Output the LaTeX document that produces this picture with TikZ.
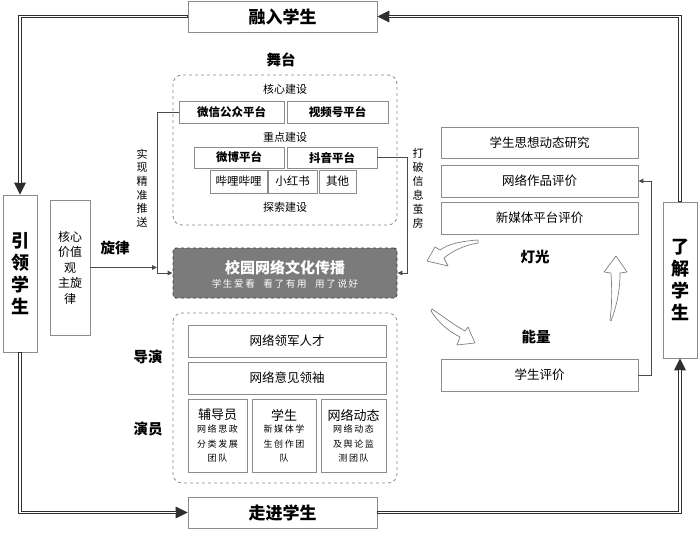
\documentclass[tikz,border=0pt]{standalone}
\usepackage{fontspec}
\setmainfont{Noto Sans CJK SC}
\newfontfamily\kai{Noto Sans CJK SC}[LetterSpace=18]
\usetikzlibrary{arrows.meta}
\definecolor{boxgray}{HTML}{8C8C8C}
\definecolor{dk}{HTML}{2E2E2E}
\definecolor{connc}{HTML}{4A4A4A}
\definecolor{campfill}{HTML}{7B7B7B}
\definecolor{campline}{HTML}{3C3C3C}
\tikzset{
  box/.style={draw=boxgray, line width=0.8pt, fill=white, inner sep=0pt, align=center},
  dashbox/.style={draw=boxgray, dashed, line width=0.8pt, rounded corners=9pt},
  lbl/.style={inner sep=0pt, align=center},
  conn/.style={draw=connc, line width=0.9pt},
  smtip/.style={-{Triangle[length=5pt,width=4.5pt]}},
  bigout/.style={line width=3.8pt, draw=dk, -{Triangle[length=12pt,width=12pt,line width=0pt]}},
  bigin/.style={line width=1.4pt, draw=white, shorten >=12pt, shorten <=0.5pt},
  blockarrow/.style={draw=gray, fill=white, line width=0.7pt, line join=round},
}
\begin{document}
\begin{tikzpicture}[x=1pt,y=-1pt]
\useasboundingbox[fill=white] (0,0) rectangle (700,535);

% outer cycle boxes
\node[box, minimum width=189pt, minimum height=31pt, font=\bfseries\fontsize{17}{20}\selectfont] (rong) at (282.5,16.5) {融入学生};
\node[box, minimum width=189pt, minimum height=31pt, font=\bfseries\fontsize{17}{20}\selectfont] (zou) at (282.5,512.5) {走进学生};
\node[box, minimum width=34pt, minimum height=157pt, font=\bfseries\fontsize{18}{22}\selectfont] (yin) at (20,273.5) {引\\领\\学\\生};
\node[box, minimum width=34pt, minimum height=156pt, font=\bfseries\fontsize{18}{22}\selectfont] (liao) at (680,280) {了\\解\\学\\生};

% double connectors
\draw[bigout] (rong.west) -| (yin.north);
\draw[bigin] (rong.west) -| (yin.north);
\draw[bigout] (yin.south) |- (zou.west);
\draw[bigin] (yin.south) |- (zou.west);
\draw[bigout] (zou.east) -| (liao.south);
\draw[bigin] (zou.east) -| (liao.south);
\draw[bigout] (liao.north) |- (rong.east);
\draw[bigin] (liao.north) |- (rong.east);

% core value box
\node[box, minimum width=40pt, minimum height=135pt, font=\fontsize{12}{15.5}\selectfont] (hexin) at (70,267.5) {核心\\价值\\观\\主旋\\律};
\node[lbl, font=\bfseries\fontsize{14.5}{17}\selectfont] (xuanlv) at (115,248) {旋律};

% stage
\node[lbl, font=\bfseries\fontsize{14.5}{17}\selectfont] (wutai) at (281,60) {舞台};
\draw[dashbox] (173,75) rectangle (397,225);
\node[lbl, font=\fontsize{11}{13}\selectfont] (hxjs) at (285,89) {核心建设};
\node[lbl, font=\fontsize{11}{13}\selectfont] (zdjs) at (285,137) {重点建设};
\node[lbl, font=\fontsize{11}{13}\selectfont] (tsjs) at (285,207) {探索建设};
\node[box, minimum width=105pt, minimum height=22pt, font=\bfseries\fontsize{11.5}{13}\selectfont] (wx) at (231.5,112) {微信公众平台};
\node[box, minimum width=101pt, minimum height=22pt, font=\bfseries\fontsize{11.5}{13}\selectfont] (sph) at (337.5,112) {视频号平台};
\node[box, minimum width=90pt, minimum height=21pt, font=\bfseries\fontsize{11.5}{13}\selectfont] (wb) at (239,157.5) {微博平台};
\node[box, minimum width=90pt, minimum height=21pt, font=\bfseries\fontsize{11.5}{13}\selectfont] (dy) at (332,157.5) {抖音平台};
\node[box, minimum width=57pt, minimum height=23pt, font=\fontsize{11.5}{13}\selectfont] (bl) at (238.5,181.5) {哔哩哔哩};
\node[box, minimum width=49pt, minimum height=23pt, font=\fontsize{11.5}{13}\selectfont] (xhs) at (292.5,181.5) {小红书};
\node[box, minimum width=37pt, minimum height=23pt, font=\fontsize{11.5}{13}\selectfont] (qt) at (337.5,181.5) {其他};

\node[lbl, font=\fontsize{11}{13.6}\selectfont] (jztx) at (142,188) {实\\现\\精\\准\\推\\送};
\node[lbl, font=\fontsize{11}{14}\selectfont] (dpxx) at (418,188) {打\\破\\信\\息\\茧\\房};

% campus box
\node[draw=campline, dashed, fill=campfill, line width=0.9pt, rounded corners=3pt, minimum width=224pt, minimum height=50pt, inner sep=0pt] (campus) at (285,273) {};
\node[lbl, text=white, font=\bfseries\fontsize{15}{17}\selectfont] (camt) at (285,268) {校园网络文化传播};
\node[lbl, text=white, font=\kai\fontsize{9.5}{11}\selectfont] (cams) at (285,283.5) {学生爱看\hspace{0.9em}看了有用\hspace{0.9em}用了说好};

% thin connectors
\coordinate (jL) at (157,273);
\coordinate (jR) at (407,273);
\draw[conn, smtip] (wx.west) -| (jL) -- (campus.west);
\draw[conn, smtip] (hexin.east) -- (hexin.east -| jL);
\draw[conn, smtip] (dy.east) -| (jR) -- (campus.east);

% actors
\draw[dashbox] (173,313) rectangle (397,483);
\node[lbl, font=\bfseries\fontsize{14.5}{17}\selectfont] (daoyan) at (148,357) {导演};
\node[lbl, font=\bfseries\fontsize{14.5}{17}\selectfont] (yanyuan) at (148,429) {演员};
\node[box, minimum width=198pt, minimum height=32pt, font=\fontsize{12.5}{15}\selectfont] (ljrc) at (287,341) {网络领军人才};
\node[box, minimum width=198pt, minimum height=32pt, font=\fontsize{12.5}{15}\selectfont] (yjls) at (287,378) {网络意见领袖};
\node[box, minimum width=59pt, minimum height=73pt] (fdy) at (217.5,435.5) {};
\node[box, minimum width=64pt, minimum height=73pt] (xs) at (284,435.5) {};
\node[box, minimum width=65pt, minimum height=73pt] (wldt) at (353.5,435.5) {};
\node[lbl, font=\fontsize{13}{15}\selectfont] (fdyt) at (217.5,415) {辅导员};
\node[lbl, font=\fontsize{13}{15}\selectfont] (xst) at (284,415) {学生};
\node[lbl, font=\fontsize{13}{15}\selectfont] (wldtt) at (353.5,415) {网络动态};
\node[lbl, font=\kai\fontsize{9}{14.5}\selectfont] (fdyb) at (217.5,444) {网络思政\\分类发展\\团队};
\node[lbl, font=\kai\fontsize{9}{14.5}\selectfont] (xsb) at (284,444) {新媒体学\\生创作团\\队};
\node[lbl, font=\kai\fontsize{9}{14.5}\selectfont] (wldtb) at (353.5,444) {网络动态\\及舆论监\\测团队};

% right side
\node[box, minimum width=197pt, minimum height=31pt, font=\fontsize{12.5}{15}\selectfont] (yj) at (539.5,142.5) {学生思想动态研究};
\node[box, minimum width=197pt, minimum height=32pt, font=\fontsize{12.5}{15}\selectfont] (zp) at (539.5,181) {网络作品评价};
\node[box, minimum width=197pt, minimum height=32pt, font=\fontsize{12.5}{15}\selectfont] (mt) at (539.5,218) {新媒体平台评价};
\node[box, minimum width=197pt, minimum height=32pt, font=\fontsize{12.5}{15}\selectfont] (pj) at (539.5,375) {学生评价};
\node[lbl, font=\bfseries\fontsize{14.5}{17}\selectfont] (dengguang) at (535,257) {灯光};
\node[lbl, font=\bfseries\fontsize{14.5}{17}\selectfont] (nengliang) at (536,337) {能量};

\coordinate (jP) at (651,181);
\draw[conn, smtip] (pj.east) -| (jP) -- (zp.east);

% curved block arrows
\draw[blockarrow] (478,240) .. controls (462,241) and (448,244) .. (440,250) -- (435,247) -- (427,261) -- (448,266) -- (444,258) .. controls (452,251) and (465,245) .. (478,243) -- cycle;
\draw[blockarrow] (432,309) .. controls (445,318) and (456,326) .. (465,331) -- (468,327) -- (475,343) -- (457,345) -- (460,337) .. controls (448,331) and (438,322) .. (431,311) -- cycle;
\draw[blockarrow] (611,321) .. controls (617,305) and (620,290) .. (620,273) -- (627,272) -- (616,256) -- (604,272) -- (611,273) .. controls (612,290) and (612,305) .. (610,320) -- cycle;
\end{tikzpicture}
\end{document}
